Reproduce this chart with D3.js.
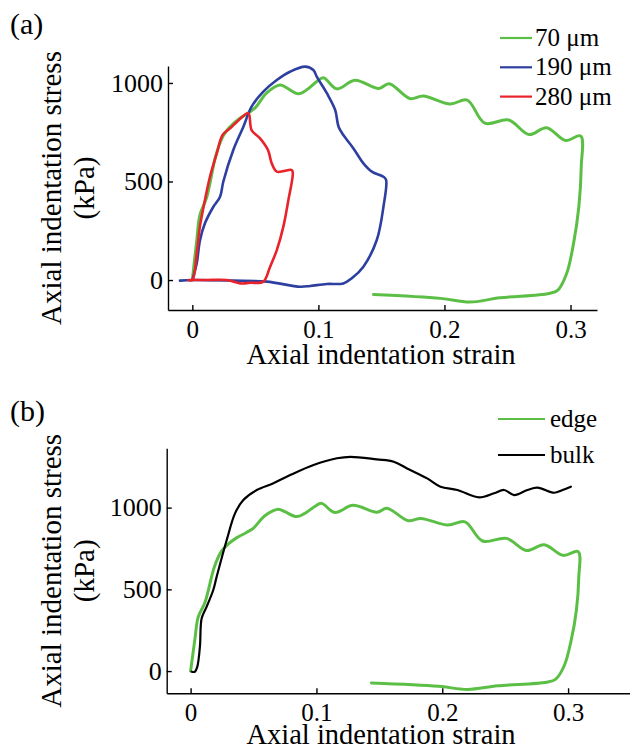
<!DOCTYPE html>
<html lang="en-US">
<head>
    <meta charset="UTF-8">
    <title>Indentation</title>
    <style>
    body {margin: 0; background: #fff;}
    svg, svg text {font-family: "Liberation Serif", "Times New Roman", Times, serif; fill: #000;}
    .axis path, .axis line {stroke: #000; stroke-width: 1.4px;}
    .curve {fill: none; stroke-linejoin: round; stroke-linecap: round;}
    </style>
</head>
<body>
<svg id="viz" width="630" height="751"></svg>
<script src="https://d3js.org/d3.v7.min.js"></script>
<script>

// strain / stress (kPa)
var edge70 = [[0,0],[0.0035,200],[0.006,330],[0.0114,420],[0.019,640],[0.0247,735],[0.030,778],[0.0365,815],
    [0.0444,848],[0.05,875],[0.059,950],[0.0696,990],[0.0749,975],[0.0842,945],[0.0908,965],[0.0987,1007],
    [0.104,1026],[0.1146,970],[0.129,1014],[0.148,972],[0.156,996],[0.173,920],[0.183,934],[0.2045,893],
    [0.218,913],[0.232,796],[0.251,812],[0.267,738],[0.281,773],[0.296,708],[0.308,731],[0.3085,575],
    [0.3066,372],[0.3024,186],[0.297,34],[0.290,-51],[0.283,-68],[0.244,-90],[0.220,-112],[0.197,-93],
    [0.1437,-73]];

var s190 = [[0,0],[0.0035,85],[0.006,200],[0.010,288],[0.0167,372],[0.022,423],[0.0246,500],[0.0325,660],
    [0.0405,778],[0.047,880],[0.0563,956],[0.067,1015],[0.0775,1057],[0.0894,1083],[0.096,1066],
    [0.0987,1032],[0.1067,948],[0.1133,863],[0.116,778],[0.1198,736],[0.1278,668],[0.1357,592],
    [0.1424,550],[0.1516,524],[0.1537,508],[0.1516,372],[0.1463,203],[0.1357,68],[0.1265,9],
    [0.1198,-17],[0.1067,-20],[0.0934,-30],[0.0855,-34],[0.059,-8],[0.0325,-3],[0,0],[-0.0098,-3]];

var s280 = [[-0.003,0],[0,0],[0.0035,135],[0.006,271],[0.010,406],[0.014,524],[0.0194,643],[0.024,736],
    [0.030,770],[0.0365,810],[0.0444,846],[0.047,761],[0.0537,719],[0.060,660],[0.063,592],[0.067,550],
    [0.0789,558],[0.0797,541],[0.0762,406],[0.0722,271],[0.067,152],[0.0617,68],[0.0563,-8],
    [0.0458,-14],[0.0379,-17],[0.0273,0],[0.011,0],[-0.003,0]];

var bulk = [[0.0008,-4],[0.0034,-4],[0.0053,26],[0.0074,149],[0.0088,323],[0.0127,393],[0.018,496],
    [0.0207,577],[0.0287,802],[0.0353,965],[0.0419,1047],[0.0526,1108],[0.0658,1149],[0.0791,1199],
    [0.0977,1261],[0.1163,1302],[0.127,1311],[0.148,1295],[0.1614,1281],[0.172,1240],[0.188,1179],
    [0.1986,1128],[0.212,1108],[0.2292,1063],[0.2412,1088],[0.2491,1108],[0.2571,1077],[0.2677,1108],
    [0.2757,1122],[0.2889,1091],[0.2956,1108],[0.3022,1128]];

var xTicks = [0, 0.1, 0.2, 0.3];
var yTicks = [0, 500, 1000];
var labelsA = ["70 μm", "190 μm", "280 μm"];
var labelsB = ["edge", "bulk"];

var green = "#5cbf45", blue = "#2d3f9f", red = "#e8232b";
var serif = '"Liberation Serif", "Times New Roman", Times, serif';

var panels = [
    {tag: "(a)", tagY: 34, xd: [-0.0193, 0.321], xr: [168, 597], yd: [-152, 1086], yr: [310, 66],
     xlabY: 364,
     series: [{d: edge70, c: green, w: 3}, {d: s190, c: blue, w: 2.6}, {d: s280, c: red, w: 2.6}],
     legend: {labels: labelsA, colors: [green, blue, red], x1: 500, x2: 532, tx: 535, y0: 38, dy: 29.3}},
    {tag: "(b)", tagY: 421, xd: [-0.019, 0.35], xr: [166.7, 631], yd: [-136, 1363], yr: [693.3, 448.3],
     xlabY: 744,
     series: [{d: edge70, c: green, w: 3}, {d: bulk, c: "#000", w: 2.2}],
     legend: {labels: labelsB, colors: [green, "#000"], x1: 498, x2: 545, tx: 550, y0: 419, dy: 36}}
];

var svg = d3.select("#viz");

panels.forEach(function(p) {
    var x = d3.scaleLinear().domain(p.xd).range(p.xr);
    var y = d3.scaleLinear().domain(p.yd).range(p.yr);
    var g = svg.append("g");

    g.append("text").attr("x", 10).attr("y", p.tagY)
        .style("font-family", serif).style("font-size", "30px").text(p.tag);

    var line = d3.line()
        .curve(d3.curveCatmullRom.alpha(0.5))
        .x(function(d) { return x(d[0]); })
        .y(function(d) { return y(d[1]); });

    p.series.forEach(function(s) {
        g.append("path").attr("class", "curve")
            .attr("d", line(s.d))
            .attr("stroke", s.c)
            .attr("stroke-width", s.w);
    });

    var xAxis = d3.axisBottom(x).tickValues(xTicks).tickFormat(d3.format("")).tickSizeInner(-5).tickSizeOuter(0).tickPadding(10);
    var yAxis = d3.axisLeft(y).tickValues(yTicks).tickFormat(d3.format("")).tickSizeInner(-5).tickSizeOuter(0).tickPadding(5);

    g.append("g").attr("class", "axis")
        .attr("transform", "translate(0," + p.yr[0] + ")")
        .call(xAxis)
        .attr("font-family", null)
        .selectAll("text").style("font-family", serif).style("font-size", "25px");

    g.append("g").attr("class", "axis")
        .attr("transform", "translate(" + p.xr[0] + ",0)")
        .call(yAxis)
        .attr("font-family", null)
        .selectAll("text").style("font-family", serif).style("font-size", "26px");

    var yc = (p.yr[0] + p.yr[1]) / 2;
    g.append("text").attr("x", 381).attr("y", p.xlabY)
        .attr("text-anchor", "middle").style("font-family", serif).style("font-size", "28.5px")
        .text("Axial indentation strain");

    g.append("text").attr("transform", "translate(61," + yc + ") rotate(-90)")
        .attr("text-anchor", "middle").style("font-family", serif).style("font-size", "29px")
        .text("Axial indentation stress");
    g.append("text").attr("transform", "translate(94," + yc + ") rotate(-90)")
        .attr("text-anchor", "middle").style("font-family", serif).style("font-size", "29px")
        .text("(kPa)");

    var lg = p.legend;
    lg.labels.forEach(function(t, i) {
        var ly = lg.y0 + i * lg.dy;
        g.append("line").attr("x1", lg.x1).attr("x2", lg.x2)
            .attr("y1", ly).attr("y2", ly)
            .attr("stroke", lg.colors[i]).attr("stroke-width", 2.2);
        g.append("text").attr("x", lg.tx).attr("y", ly + 8)
            .style("font-family", serif).style("font-size", "25px").text(t);
    });
});

</script>
</body>
</html>
